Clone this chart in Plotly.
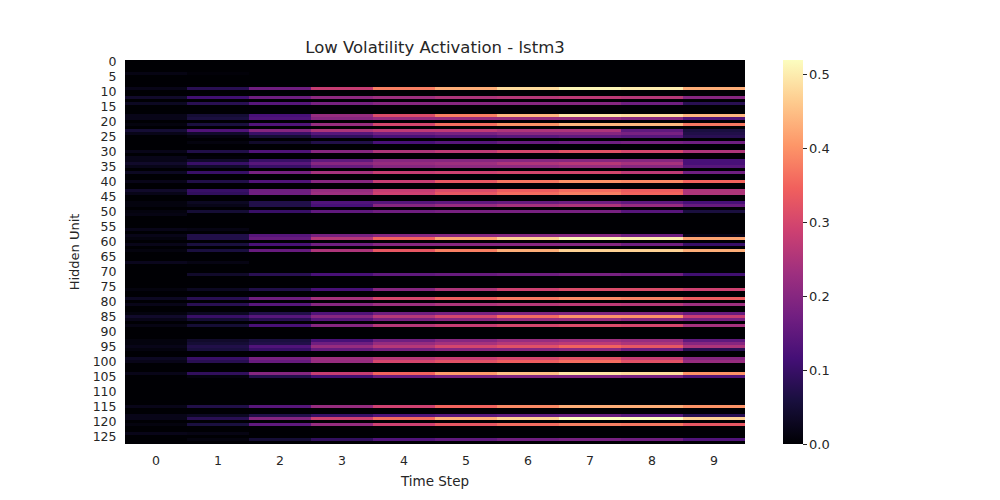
import numpy as np
import plotly.graph_objects as go

# Оси
time_steps = list(range(10))
hidden_units = list(range(128))

# Активные нейроны (номер строки) и их активации по шагам 0..9
active_units = [4, 9, 12, 14, 18, 19, 21, 23, 24, 25, 27, 30, 32, 33, 34, 35, 37, 40,
                43, 44, 47, 48, 50, 51, 56, 58, 59, 61, 63, 67, 71, 76, 79, 81, 84,
                85, 86, 88, 93, 94, 95, 96, 99, 100, 104, 105, 115, 118, 119, 121,
                124, 126]
active_values = [
    [0.015, 0.005, 0, 0, 0, 0, 0, 0, 0, 0],
    [0.02, 0.08, 0.17, 0.28, 0.38, 0.43, 0.48, 0.51, 0.50, 0.43],
    [0.04, 0.11, 0.17, 0.21, 0.23, 0.25, 0.26, 0.27, 0.26, 0.20],
    [0.03, 0.08, 0.14, 0.18, 0.20, 0.20, 0.20, 0.20, 0.17, 0.08],
    [0.02, 0.05, 0.12, 0.22, 0.31, 0.38, 0.44, 0.49, 0.48, 0.44],
    [0.02, 0.06, 0.13, 0.20, 0.22, 0.22, 0.22, 0.22, 0.20, 0.13],
    [0.01, 0.06, 0.13, 0.22, 0.30, 0.36, 0.40, 0.44, 0.44, 0.37],
    [0.05, 0.13, 0.20, 0.25, 0.27, 0.27, 0.25, 0.25, 0.15, 0.06],
    [0.02, 0.04, 0.10, 0.14, 0.17, 0.18, 0.20, 0.20, 0.18, 0.07],
    [0.0, 0.01, 0.05, 0.09, 0.12, 0.13, 0.14, 0.15, 0.14, 0.08],
    [0.0, 0.01, 0.04, 0.07, 0.12, 0.14, 0.16, 0.17, 0.18, 0.17],
    [0.02, 0.07, 0.13, 0.20, 0.25, 0.27, 0.30, 0.32, 0.30, 0.25],
    [0.02, 0.005, 0, 0, 0, 0, 0, 0, 0, 0],
    [0.02, 0.04, 0.10, 0.15, 0.20, 0.20, 0.20, 0.20, 0.20, 0.12],
    [0.04, 0.10, 0.14, 0.20, 0.22, 0.23, 0.25, 0.26, 0.24, 0.12],
    [0.02, 0.04, 0.10, 0.16, 0.20, 0.21, 0.21, 0.22, 0.20, 0.14],
    [0.03, 0.10, 0.18, 0.24, 0.28, 0.29, 0.30, 0.30, 0.27, 0.17],
    [0.02, 0.07, 0.13, 0.20, 0.28, 0.33, 0.37, 0.40, 0.39, 0.35],
    [0.04, 0.10, 0.17, 0.22, 0.28, 0.31, 0.34, 0.36, 0.34, 0.25],
    [0.02, 0.09, 0.17, 0.23, 0.29, 0.33, 0.36, 0.38, 0.35, 0.25],
    [0.01, 0.03, 0.07, 0.13, 0.14, 0.15, 0.16, 0.17, 0.15, 0.12],
    [0.01, 0.02, 0.07, 0.12, 0.20, 0.22, 0.24, 0.25, 0.22, 0.16],
    [0.01, 0.05, 0.10, 0.15, 0.17, 0.18, 0.18, 0.18, 0.14, 0.06],
    [0.015, 0, 0, 0, 0, 0, 0, 0, 0, 0],
    [0.02, 0.015, 0, 0, 0, 0, 0, 0, 0, 0],
    [0.02, 0.07, 0.14, 0.18, 0.20, 0.20, 0.20, 0.20, 0.17, 0.02],
    [0.01, 0.07, 0.16, 0.26, 0.35, 0.42, 0.47, 0.51, 0.50, 0.42],
    [0.02, 0.06, 0.12, 0.17, 0.20, 0.20, 0.20, 0.20, 0.17, 0.10],
    [0.01, 0.06, 0.16, 0.25, 0.33, 0.38, 0.43, 0.47, 0.47, 0.43],
    [0.025, 0.015, 0, 0, 0, 0, 0, 0, 0, 0],
    [0.0, 0.04, 0.08, 0.12, 0.15, 0.16, 0.17, 0.18, 0.17, 0.11],
    [0.01, 0.03, 0.07, 0.12, 0.20, 0.25, 0.29, 0.31, 0.31, 0.29],
    [0.03, 0.08, 0.17, 0.24, 0.30, 0.34, 0.37, 0.39, 0.38, 0.34],
    [0.02, 0.08, 0.14, 0.20, 0.23, 0.25, 0.26, 0.27, 0.26, 0.23],
    [0.01, 0.03, 0.07, 0.13, 0.17, 0.18, 0.19, 0.19, 0.19, 0.16],
    [0.04, 0.10, 0.14, 0.20, 0.26, 0.30, 0.36, 0.40, 0.40, 0.28],
    [0.02, 0.05, 0.08, 0.14, 0.18, 0.20, 0.22, 0.22, 0.20, 0.18],
    [0.015, 0.05, 0.12, 0.20, 0.26, 0.28, 0.30, 0.31, 0.30, 0.24],
    [0.01, 0.04, 0.06, 0.12, 0.17, 0.20, 0.22, 0.23, 0.22, 0.15],
    [0.01, 0.05, 0.07, 0.17, 0.22, 0.24, 0.26, 0.27, 0.25, 0.20],
    [0.02, 0.07, 0.13, 0.22, 0.26, 0.30, 0.32, 0.35, 0.33, 0.25],
    [0.01, 0.06, 0.10, 0.16, 0.18, 0.20, 0.20, 0.21, 0.17, 0.08],
    [0.03, 0.10, 0.18, 0.23, 0.26, 0.28, 0.30, 0.32, 0.28, 0.20],
    [0.02, 0.08, 0.16, 0.22, 0.30, 0.32, 0.34, 0.36, 0.32, 0.22],
    [0.02, 0.09, 0.20, 0.28, 0.35, 0.41, 0.45, 0.49, 0.48, 0.40],
    [0.0, 0.01, 0.07, 0.11, 0.16, 0.18, 0.19, 0.19, 0.18, 0.13],
    [0.02, 0.07, 0.14, 0.22, 0.29, 0.35, 0.39, 0.43, 0.43, 0.40],
    [0.02, 0.03, 0.07, 0.10, 0.13, 0.14, 0.15, 0.16, 0.14, 0.08],
    [0.02, 0.08, 0.20, 0.29, 0.36, 0.43, 0.47, 0.52, 0.52, 0.47],
    [0.01, 0.06, 0.15, 0.22, 0.29, 0.33, 0.36, 0.38, 0.37, 0.33],
    [0.02, 0.015, 0, 0, 0, 0, 0, 0, 0, 0],
    [0.0, 0.01, 0.05, 0.09, 0.13, 0.15, 0.17, 0.18, 0.17, 0.13],
]

# Матрица активаций
z = np.zeros((len(hidden_units), len(time_steps)))
for unit, vals in zip(active_units, active_values):
    z[unit] = vals

text_color = "#262626"
font = "DejaVu Sans"

fig = go.Figure(go.Heatmap(
    z=z, x=time_steps, y=hidden_units,
    colorscale="Magma", zmin=0, zmax=0.52,
    colorbar=dict(
        x=1 + 38 / 620, xanchor="left", xpad=0,
        y=0, yanchor="bottom", len=1, ypad=0,
        thickness=20, outlinewidth=0,
        tickvals=[0, 0.1, 0.2, 0.3, 0.4, 0.5], tickformat=".1f",
        ticks="outside", ticklen=4, tickcolor=text_color,
        tickfont=dict(family=font, size=13, color=text_color),
    ),
))

# страница сдвигает график на 8px (отступ body), поэтому поля уменьшены
fig.update_layout(
    width=1000, height=500,
    margin=dict(l=117, r=263, t=52, b=64),
    paper_bgcolor="white", plot_bgcolor="white",
    font=dict(family=font, color=text_color),
    title=dict(text="Low Volatility Activation - lstm3", x=427 / 1000, xanchor="center",
               y=1 - 39 / 500, yanchor="middle", font=dict(size=16.5, color=text_color)),
)
fig.update_xaxes(
    title=dict(text="Time Step", font=dict(size=13.5), standoff=9),
    tickvals=time_steps, ticks="outside", ticklen=5, tickcolor="white",
    showgrid=False, zeroline=False,
    range=[-0.5, 9.5], tickfont=dict(size=12.5),
)
fig.update_yaxes(
    title=dict(text="Hidden Unit", font=dict(size=13), standoff=10),
    tickvals=hidden_units[::5], ticks="outside", ticklen=5, tickcolor="white",
    showgrid=False, zeroline=False,
    range=[127.5, -0.5], tickfont=dict(size=12.5),
)

fig.write_html("out.html")
